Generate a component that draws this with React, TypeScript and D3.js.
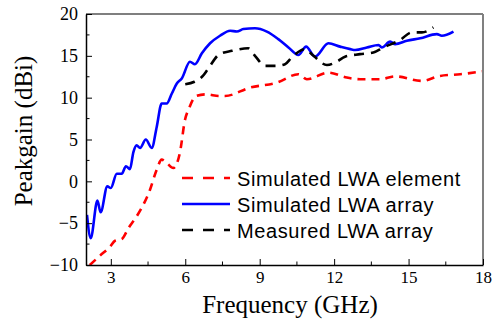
import { useEffect, useRef } from 'react';
import * as d3 from 'd3';

// Simulated LWA element (GHz, dBi)
const elemFreq = [2.15, 2.56, 2.97, 3.17, 3.44, 3.71, 4.04, 4.31, 4.58, 4.85, 5.05, 5.25, 5.52, 5.79, 5.85, 5.96, 6.17, 6.44, 6.84, 7.38, 7.6, 8.61, 9.69, 10.56, 10.9, 11.77, 12.51, 13.05, 13.85, 14.46, 15.54, 16.27, 17.08, 18.0];
const elemGain = [-10, -8.9, -7.8, -7.1, -6.9, -5.6, -4.2, -2.8, -1.0, 1.4, 2.6, 2.2, 1.6, 3.5, 4.6, 6.9, 8.85, 10.2, 10.4, 10.2, 10.2, 11.2, 11.8, 12.8, 12.2, 13.0, 12.4, 12.2, 12.2, 12.55, 12.0, 12.6, 12.8, 13.15];

// Simulated LWA array
const arrFreq = [2.04, 2.19, 2.46, 2.59, 2.86, 3.0, 3.24, 3.44, 3.61, 3.77, 3.91, 4.04, 4.18, 4.41, 4.65, 4.85, 5.05, 5.25, 5.46, 5.66, 5.86, 6.19, 6.39, 6.67, 7.0, 7.4, 7.81, 8.08, 8.34, 8.81, 9.29, 9.75, 10.16, 10.56, 10.87, 11.23, 11.77, 12.24, 12.65, 12.85, 13.32, 13.79, 13.92, 14.26, 14.46, 14.93, 15.47, 16.14, 16.34, 16.81];
const arrGain = [-4.0, -6.8, -2.3, -3.7, -0.6, -0.8, 0.9, 0.9, 1.8, 1.45, 3.5, 4.3, 4.0, 5.0, 4.0, 6.5, 9.3, 9.3, 10.5, 11.7, 12.3, 14.3, 14.0, 15.3, 16.5, 17.4, 18.0, 17.9, 18.2, 18.3, 17.9, 17.0, 16.0, 15.1, 16.1, 14.9, 16.5, 16.1, 15.8, 15.7, 16.0, 16.3, 16.0, 16.7, 16.4, 16.8, 17.1, 17.6, 17.4, 17.9];

// Measured LWA array
const measFreq = [6.0, 6.37, 6.71, 6.91, 7.38, 7.88, 8.54, 8.81, 9.22, 9.62, 10.02, 10.29, 10.83, 11.17, 11.71, 12.11, 12.44, 13.05, 13.58, 13.99, 14.66, 15.13, 15.54, 16.0];
const measGain = [11.6, 11.9, 12.6, 13.4, 15.2, 15.6, 15.9, 15.0, 13.8, 13.8, 14.0, 14.8, 15.8, 15.0, 13.9, 14.3, 14.9, 15.2, 15.4, 16.0, 16.9, 17.8, 17.8, 18.4];

const xTicks = [3, 6, 9, 12, 15, 18];
const xMinor = [4.5, 7.5, 10.5, 13.5, 16.5];
const yTicks = [-10, -5, 0, 5, 10, 15, 20];
const yMinor = [-7.5, -2.5, 2.5, 7.5, 12.5, 17.5];

const series = [
  { name: 'Simulated LWA element', freq: elemFreq, gain: elemGain, color: '#ff0000', dash: '8,6', legendDash: '11,10' },
  { name: 'Simulated LWA array', freq: arrFreq, gain: arrGain, color: '#0000ff', dash: null, legendDash: null },
  { name: 'Measured LWA array', freq: measFreq, gain: measGain, color: '#000000', dash: '10,7', legendDash: '11,10' },
];

const SERIF = '"Liberation Serif", "Times New Roman", serif';

export default function App() {
  const ref = useRef<SVGSVGElement>(null);

  useEffect(() => {
    if (!ref.current) return;
    const svg = d3.select(ref.current);
    svg.selectAll('*').remove();

    const width = 495;
    const height = 322;
    const margin = { top: 14, right: 12, bottom: 57, left: 86 };
    const innerW = width - margin.left - margin.right;
    const innerH = height - margin.top - margin.bottom;

    svg.append('rect').attr('width', width).attr('height', height).attr('fill', '#fff');

    const g = svg.append('g').attr('transform', `translate(${margin.left},${margin.top})`);

    const x = d3.scaleLinear().domain([2, 18]).range([0, innerW]);
    const y = d3.scaleLinear().domain([-10, 20]).range([innerH, 0]);

    const clip = svg.append('defs').append('clipPath').attr('id', 'plot-clip');
    clip.append('rect').attr('width', innerW).attr('height', innerH);

    const lines = g.append('g').attr('clip-path', 'url(#plot-clip)');
    series.forEach((s) => {
      const pts = s.freq.map((f, i) => [f, s.gain[i]] as [number, number]);
      const line = d3
        .line<[number, number]>()
        .x((d) => x(d[0]))
        .y((d) => y(d[1]))
        .curve(d3.curveMonotoneX);
      const p = lines
        .append('path')
        .datum(pts)
        .attr('fill', 'none')
        .attr('stroke', s.color)
        .attr('stroke-width', 2.6)
        .attr('stroke-linejoin', 'round')
        .attr('d', line);
      if (s.dash) p.attr('stroke-dasharray', s.dash);
    });

    // frame
    g.append('line').attr('x1', 0).attr('x2', innerW).attr('y1', 0).attr('y2', 0).attr('stroke', '#000').attr('stroke-width', 1.2);
    g.append('line').attr('x1', innerW).attr('x2', innerW).attr('y1', 0).attr('y2', innerH).attr('stroke', '#808080').attr('stroke-width', 2);

    // x axis, ticks inside
    const xAxis = g
      .append('g')
      .attr('transform', `translate(0,${innerH})`)
      .call(d3.axisBottom(x).tickValues(xTicks).tickSizeInner(-6).tickSizeOuter(0).tickPadding(6).tickFormat(d3.format('d')));
    xAxis.attr('font-family', null).attr('font-size', null);
    xAxis.select('.domain').attr('stroke-width', 1.5);
    xAxis.selectAll('text').style('font-family', SERIF).style('font-size', '17px').attr('fill', '#000');
    g.append('g')
      .attr('transform', `translate(0,${innerH})`)
      .selectAll('line')
      .data(xMinor)
      .join('line')
      .attr('x1', (d) => x(d))
      .attr('x2', (d) => x(d))
      .attr('y1', 0)
      .attr('y2', -3.5)
      .attr('stroke', '#000');

    // y axis, ticks inside
    const yAxis = g
      .append('g')
      .call(d3.axisLeft(y).tickValues(yTicks).tickSizeInner(-6).tickSizeOuter(0).tickPadding(8).tickFormat(d3.format('d')));
    yAxis.attr('font-family', null).attr('font-size', null);
    yAxis.select('.domain').attr('stroke-width', 1.5);
    yAxis.selectAll('text').style('font-family', SERIF).style('font-size', '18px').attr('fill', '#000');
    g.append('g')
      .selectAll('line')
      .data(yMinor)
      .join('line')
      .attr('x1', 0)
      .attr('x2', 3.5)
      .attr('y1', (d) => y(d))
      .attr('y2', (d) => y(d))
      .attr('stroke', '#000');

    // axis titles
    svg
      .append('text')
      .attr('x', 290)
      .attr('y', 313)
      .attr('text-anchor', 'middle')
      .style('font-family', SERIF)
      .style('font-size', '25px')
      .text('Frequency (GHz)');
    svg
      .append('text')
      .attr('transform', 'translate(32,131) rotate(-90)')
      .attr('text-anchor', 'middle')
      .style('font-family', SERIF)
      .style('font-size', '25px')
      .text('Peakgain (dBi)');

    // legend
    const legend = svg.append('g').attr('transform', 'translate(182,178)');
    series.forEach((s, i) => {
      const row = legend.append('g').attr('transform', `translate(0,${i * 26})`);
      const l = row
        .append('line')
        .attr('x1', 0)
        .attr('x2', 48)
        .attr('stroke', s.color)
        .attr('stroke-width', 2.6);
      if (s.legendDash) l.attr('stroke-dasharray', s.legendDash);
      row
        .append('text')
        .attr('x', 55)
        .attr('y', 7.5)
        .style('font-family', '"Liberation Sans", Arial, sans-serif')
        .style('font-size', '20px')
        .style('letter-spacing', '0.6px')
        .attr('fill', '#000')
        .text(s.name);
    });
  }, []);

  return <svg ref={ref} width={495} height={322} style={{ position: 'absolute', left: 0, top: 0 }} />;
}
